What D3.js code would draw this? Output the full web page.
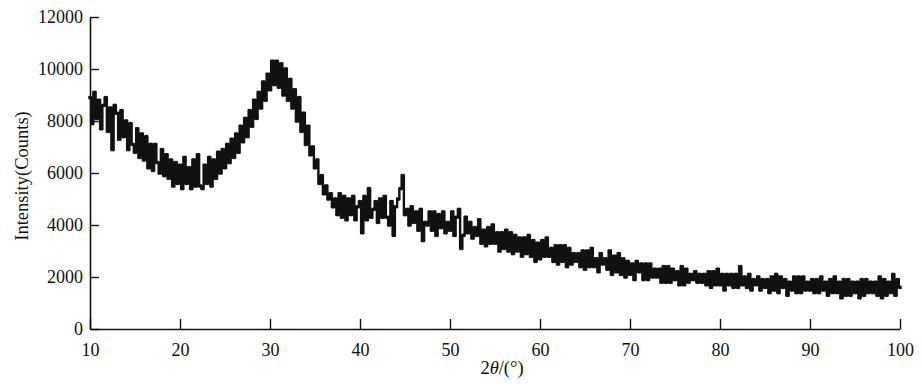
<!DOCTYPE html>
<html>
<head>
<meta charset="utf-8">
<script src="https://cdn.jsdelivr.net/npm/d3@7"></script>
<style>
  html, body { margin: 0; padding: 0; background: #fff; }
  svg { display: block; }
  text { font-family: "Liberation Serif", "Times New Roman", serif; fill: #111; }
</style>
</head>
<body>
<svg id="chart" width="921" height="387"></svg>
<script>
// 2θ start and step (degrees)
const twoThetaStart = 10;
const twoThetaStep = 0.25;
// Intensity (counts), 4 values per degree from 10° to 100°
const intensity = [
  8900, 7900, 9100, 8100,   // 10
  8800, 7700, 8600, 8900,   // 11
  7600, 8500, 6900, 8600,   // 12
  8300, 7300, 8400, 7400,   // 13
  8000, 6900, 7900, 7100,   // 14
  6800, 7700, 6600, 7500,   // 15
  6500, 7400, 6200, 7100,   // 16
  6100, 7100, 6400, 6000,   // 17
  6900, 5900, 6700, 5800,   // 18
  6500, 5500, 6400, 5600,   // 19
  6300, 5400, 6600, 5600,   // 20
  6200, 5400, 6500, 5500,   // 21
  6700, 5500, 5400, 6300,   // 22
  5600, 6600, 5500, 6500,   // 23
  5800, 6800, 6000, 6900,   // 24
  6200, 7100, 6400, 7300,   // 25
  6600, 7500, 6800, 7800,   // 26
  7200, 8100, 7400, 8400,   // 27
  7800, 8800, 8100, 9100,   // 28
  8500, 9500, 8800, 9800,   // 29
  9200, 10300, 9400, 10300, // 30
  9300, 10200, 9000, 10000, // 31
  8800, 9600, 8500, 9200,   // 32
  8000, 8900, 7600, 8300,   // 33
  7100, 7800, 6700, 7000,   // 34
  6200, 6500, 5600, 5900,   // 35
  5200, 5500, 5000, 5200,   // 36
  4700, 5000, 4400, 5200,   // 37
  4300, 5100, 4200, 5000,   // 38
  4400, 5100, 4200, 4700,   // 39
  4900, 3700, 5100, 4200,   // 40
  5400, 4300, 4600, 4900,   // 41
  4100, 5000, 4300, 5100,   // 42
  4300, 4000, 4900, 3600,   // 43
  4700, 5000, 5400, 5900,   // 44
  4400, 4600, 4000, 4700,   // 45
  4100, 4500, 3800, 4600,   // 46
  3400, 4100, 4000, 4500,   // 47
  3800, 4500, 3600, 4400,   // 48
  3900, 4500, 3700, 4100,   // 49
  3800, 4500, 3600, 4300,   // 50
  4600, 3100, 3600, 4300,   // 51
  3700, 4100, 3500, 3900,   // 52
  3600, 4200, 3300, 3800,   // 53
  3200, 3900, 3300, 4000,   // 54
  3300, 3700, 3000, 3700,   // 55
  3100, 3800, 3000, 3700,   // 56
  2900, 3600, 3000, 3500,   // 57
  2800, 3500, 2900, 3600,   // 58
  2800, 3400, 2600, 3300,   // 59
  2700, 3400, 2800, 3500,   // 60
  2800, 3100, 2600, 3200,   // 61
  2500, 3200, 2600, 3200,   // 62
  2400, 3100, 2500, 2900,   // 63
  2600, 2900, 2400, 3000,   // 64
  2300, 3000, 2400, 3100,   // 65
  2400, 2700, 2200, 2900,   // 66
  2500, 2700, 2300, 3000,   // 67
  2100, 2800, 2200, 2900,   // 68
  2100, 2700, 2000, 2600,   // 69
  2100, 2500, 1900, 2600,   // 70
  2200, 2500, 1900, 2500,   // 71
  1900, 2500, 2000, 2300,   // 72
  2000, 2300, 1800, 2400,   // 73
  1800, 2400, 1800, 2300,   // 74
  1900, 2200, 1700, 2400,   // 75
  1700, 2300, 1800, 2100,   // 76
  1900, 2200, 1800, 2100,   // 77
  1800, 2100, 1700, 2200,   // 78
  1600, 2200, 1700, 2300,   // 79
  1700, 2100, 1500, 2100,   // 80
  1700, 2100, 1600, 2100,   // 81
  1600, 2400, 1700, 2000,   // 82
  1600, 2100, 1500, 1900,   // 83
  1700, 2000, 1500, 1900,   // 84
  1600, 1900, 1400, 2000,   // 85
  1500, 2100, 1400, 2000,   // 86
  1600, 1900, 1300, 1800,   // 87
  1500, 2000, 1400, 2000,   // 88
  1400, 2000, 1500, 1800,   // 89
  1500, 1900, 1400, 1900,   // 90
  1400, 2000, 1500, 1800,   // 91
  1300, 1900, 1400, 2000,   // 92
  1400, 1800, 1200, 1900,   // 93
  1300, 1900, 1300, 1800,   // 94
  1400, 1800, 1200, 1900,   // 95
  1300, 1900, 1400, 1800,   // 96
  1400, 1800, 1300, 2000,   // 97
  1200, 1900, 1300, 1800,   // 98
  1400, 2100, 1300, 1900,   // 99
  1600                      // 100
];
const xTicks = [10, 20, 30, 40, 50, 60, 70, 80, 90, 100];
const yTicks = [0, 2000, 4000, 6000, 8000, 10000, 12000];
const xLabel = "2θ/(°)";
const yLabel = "Intensity(Counts)";

const data = intensity.map((v, i) => ({ x: twoThetaStart + i * twoThetaStep, y: v }));

const svg = d3.select("#chart");
const m = { left: 90, right: 900, top: 17, bottom: 329 };

const x = d3.scaleLinear().domain([10, 100]).range([m.left, m.right]);
const y = d3.scaleLinear().domain([0, 12000]).range([m.bottom, m.top]);

// Data line
const line = d3.line().x(d => x(d.x)).y(d => y(d.y)).curve(d3.curveStep);
svg.append("path")
  .datum(data)
  .attr("fill", "none")
  .attr("stroke", "#111")
  .attr("stroke-width", 2.4)
  .attr("d", line);

svg.append("g")
  .selectAll("rect")
  .data(data)
  .join("rect")
  .attr("x", d => x(d.x) - 1.7)
  .attr("y", d => y(d.y) - 1.7)
  .attr("width", 3.4)
  .attr("height", 3.4)
  .attr("fill", "#111");

// Axes
const fmt = d3.format("d");
const xAxis = d3.axisBottom(x).tickValues(xTicks).tickFormat(fmt).tickSizeInner(-10).tickSizeOuter(0).tickPadding(14);
const gx = svg.append("g").attr("transform", `translate(0,${m.bottom})`).call(xAxis);
gx.select(".domain").attr("stroke", "#111").attr("stroke-width", 1.6);
gx.selectAll(".tick line").attr("stroke", "#111").attr("stroke-width", 1.4);
gx.selectAll(".tick text").attr("font-size", 18).attr("fill", "#111");

const yAxis = d3.axisLeft(y).tickValues(yTicks).tickFormat(fmt).tickSizeInner(-9).tickSizeOuter(0).tickPadding(7);
const gy = svg.append("g").attr("transform", `translate(${m.left},0)`).call(yAxis);
gy.select(".domain").attr("stroke", "#111").attr("stroke-width", 1.6);
gy.selectAll(".tick line").attr("stroke", "#111").attr("stroke-width", 1.4);
gy.selectAll(".tick text").attr("font-size", 18).attr("fill", "#111");

// Axis titles
const xt = svg.append("text")
  .attr("x", 502)
  .attr("y", 374)
  .attr("text-anchor", "middle")
  .attr("font-size", 18.5);
xt.append("tspan").text("2");
xt.append("tspan").attr("font-style", "italic").text("θ");
xt.append("tspan").text("/(°)");

svg.append("text")
  .attr("transform", `translate(28,176) rotate(-90)`)
  .attr("text-anchor", "middle")
  .attr("font-size", 18.5)
  .text(yLabel);
</script>
</body>
</html>
